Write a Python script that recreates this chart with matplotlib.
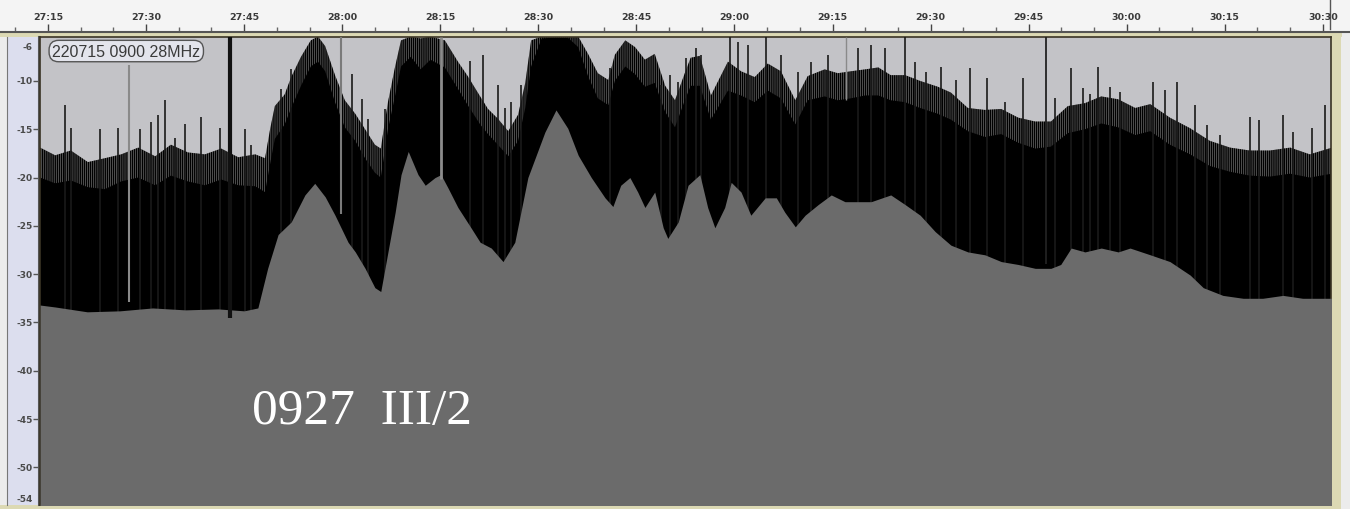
import matplotlib
matplotlib.use('Agg')
import matplotlib.pyplot as plt
from matplotlib.patches import Rectangle

plt.rcParams['hatch.linewidth'] = 1.1

# ---------------- data ----------------
time_ticks = [1635, 1650, 1665, 1680, 1695, 1710, 1725, 1740, 1755, 1770, 1785, 1800, 1815, 1830]
time_labels = ['27:15', '27:30', '27:45', '28:00', '28:15', '28:30', '28:45', '29:00',
               '29:15', '29:30', '29:45', '30:00', '30:15', '30:30']
db_ticks = [-6, -10, -15, -20, -25, -30, -35, -40, -45, -50, -54]
db_labels = ['-6', '-10', '-15', '-20', '-25', '-30', '-35', '-40', '-45', '-50', '-54']

# upper part of the trace: spike-tip level and solid-black level (dB)
upper_t = [1633.8, 1636.1, 1638.5, 1641.1, 1643.7, 1646.2, 1648.8, 1651.4, 1653.8, 1656.4,
           1659.0, 1661.5, 1664.1, 1666.7, 1668.2, 1669.0, 1669.7, 1671.2, 1672.2, 1673.7,
           1675.2, 1676.3, 1677.4, 1678.9, 1680.4, 1682.0, 1683.5, 1685.0, 1685.9, 1687.0,
           1688.1, 1689.0, 1690.5, 1692.0, 1693.5, 1695.7, 1697.7, 1699.2, 1701.1, 1702.3,
           1703.8, 1705.4, 1706.9, 1708.0, 1708.9, 1710.5, 1712.7, 1714.5, 1716.1, 1717.6,
           1719.1, 1720.7, 1721.7, 1723.3, 1724.8, 1726.3, 1727.8, 1729.4, 1730.9, 1732.4,
           1733.3, 1734.7, 1736.4, 1739.0, 1741.0, 1743.1, 1745.1, 1747.1, 1749.3, 1751.2,
           1753.8, 1755.8, 1757.8, 1760.0, 1762.0, 1763.9, 1766.1, 1768.4, 1771.1, 1773.1,
           1775.7, 1778.3, 1780.8, 1783.4, 1786.0, 1788.4, 1791.0, 1793.6, 1796.1, 1798.7,
           1801.3, 1803.6, 1806.6, 1809.7, 1812.7, 1815.8, 1818.8, 1821.9, 1825.0, 1828.0,
           1831.4]
peak_db = [-16.9, -17.7, -17.2, -18.4, -18.0, -17.6, -16.9, -17.8, -16.6, -17.4,
           -17.6, -17.0, -17.9, -17.6, -18.0, -14.9, -12.6, -11.4, -9.6, -7.5,
           -5.8, -5.4, -6.4, -9.4, -12.0, -13.4, -15.0, -16.6, -17.0, -12.2,
           -8.5, -5.8, -5.4, -5.6, -5.4, -5.8, -8.0, -9.5, -11.6, -12.9,
           -13.9, -15.2, -13.5, -10.2, -5.8, -5.4, -5.4, -5.4, -5.4, -7.2,
           -9.2, -9.9, -7.3, -5.8, -6.5, -7.8, -7.2, -10.5, -12.0, -9.2,
           -7.6, -7.4, -11.5, -8.0, -9.0, -9.6, -8.2, -9.0, -12.0, -9.5,
           -8.8, -9.2, -9.0, -8.8, -8.6, -9.4, -9.4, -10.0, -10.6, -11.2,
           -12.8, -13.0, -12.9, -13.8, -14.2, -14.2, -12.6, -12.3, -11.6, -11.9,
           -12.8, -12.4, -13.8, -14.9, -16.2, -16.9, -17.2, -17.2, -16.9, -17.6,
           -16.9]
solid_db = [-20.0, -20.6, -20.3, -21.0, -21.2, -20.4, -20.0, -20.8, -19.8, -20.4,
            -20.8, -20.2, -20.8, -20.9, -21.5, -18.5, -16.0, -14.5, -12.8, -10.5,
            -8.5, -8.0, -9.0, -12.2, -14.8, -16.2, -18.0, -19.5, -20.0, -15.0,
            -11.5, -8.5, -7.5, -8.8, -7.8, -8.6, -10.8, -12.5, -14.5, -15.5,
            -16.6, -17.8, -16.2, -12.8, -8.5, -5.6, -5.5, -5.5, -6.5, -9.5,
            -11.8, -12.5, -10.0, -8.5, -9.3, -10.6, -10.2, -13.2, -14.8, -12.0,
            -10.5, -10.5, -14.0, -11.0, -11.5, -12.2, -11.0, -11.8, -14.5, -12.0,
            -11.6, -12.0, -11.8, -11.5, -11.5, -12.0, -12.2, -12.8, -13.4, -14.0,
            -15.2, -15.8, -15.5, -16.4, -17.0, -16.8, -15.4, -15.0, -14.4, -14.8,
            -15.6, -15.2, -16.6, -17.6, -18.8, -19.4, -19.8, -19.9, -19.6, -20.0,
            -19.6]

# lower edge of the black trace (dB)
lower_t = [1633.8, 1636.1, 1641.0, 1646.0, 1651.0, 1656.0, 1661.0, 1665.0, 1667.1, 1668.6,
           1670.2, 1672.2, 1674.3, 1675.8, 1677.4, 1678.9, 1680.9, 1682.0, 1683.5, 1685.0,
           1685.9, 1687.0, 1688.1, 1689.0, 1690.1, 1691.6, 1692.7, 1694.2, 1695.1, 1696.2,
           1697.7, 1699.7, 1701.1, 1702.8, 1704.6, 1706.4, 1708.4, 1711.0, 1712.7, 1714.5,
           1716.1, 1718.1, 1720.2, 1721.4, 1722.6, 1724.0, 1725.2, 1726.3, 1727.8, 1729.1,
           1729.8, 1731.4, 1732.9, 1734.7, 1735.9, 1737.0, 1738.5, 1739.5, 1741.0, 1742.5,
           1744.7, 1746.4, 1747.7, 1749.3, 1750.8, 1752.8, 1754.8, 1756.9, 1758.9, 1760.9,
           1763.9, 1766.1, 1768.4, 1770.7, 1773.1, 1775.7, 1778.3, 1780.8, 1783.4, 1786.0,
           1788.4, 1789.9, 1791.5, 1793.6, 1796.1, 1798.7, 1800.5, 1803.6, 1806.6, 1809.7,
           1811.7, 1814.7, 1817.8, 1820.8, 1823.9, 1826.9, 1830.0, 1831.4]
lower_db = [-33.2, -33.4, -33.9, -33.8, -33.5, -33.7, -33.6, -33.8, -33.5, -29.4,
            -25.9, -24.6, -21.8, -20.6, -22.0, -23.9, -26.7, -27.7, -29.4, -31.4,
            -31.8, -27.7, -23.6, -19.7, -17.3, -19.7, -20.8, -20.0, -19.7, -21.1,
            -23.1, -25.2, -26.7, -27.3, -28.7, -26.7, -20.0, -15.3, -13.0, -14.9,
            -17.7, -20.0, -22.1, -23.0, -20.8, -20.0, -21.5, -23.1, -21.5, -25.2,
            -26.3, -24.6, -20.8, -19.7, -23.1, -25.2, -23.1, -20.5, -21.5, -23.9,
            -22.1, -22.1, -23.6, -25.1, -23.9, -22.8, -21.8, -22.5, -22.5, -22.5,
            -21.8, -22.8, -23.9, -25.6, -27.0, -27.7, -28.0, -28.7, -29.0, -29.4,
            -29.4, -29.0, -27.3, -27.7, -27.3, -27.7, -27.3, -28.0, -28.7, -30.1,
            -31.4, -32.2, -32.5, -32.5, -32.2, -32.5, -32.5, -32.5]

# prominent isolated spikes (time s, tip dB)
spike_t = [1637.6, 1638.5, 1643.0, 1645.7, 1649.1, 1650.8, 1651.8, 1652.9, 1654.4, 1656.0,
           1658.4, 1661.3, 1665.1, 1666.0, 1670.6, 1672.2, 1681.5, 1683.0, 1684.0, 1686.5,
           1699.5, 1701.5, 1703.8, 1704.9, 1705.8, 1707.3, 1721.0, 1728.8, 1730.1, 1731.4,
           1732.6, 1734.1, 1734.9, 1739.3, 1740.5, 1742.1, 1744.8, 1747.1, 1749.7, 1751.7,
           1754.3, 1758.9, 1760.9, 1763.0, 1766.1, 1767.6, 1769.3, 1771.6, 1773.9, 1776.0,
           1778.6, 1781.4, 1784.1, 1789.0, 1791.5, 1793.3, 1794.4, 1795.6, 1797.5, 1799.0,
           1804.0, 1805.9, 1807.7, 1810.4, 1812.3, 1814.3, 1818.9, 1820.2, 1823.9, 1825.4,
           1828.3, 1830.3]
spike_db = [-12.5, -14.9, -15.0, -14.9, -15.0, -14.2, -13.5, -12.0, -15.9, -14.5,
            -13.7, -14.9, -15.0, -16.6, -10.8, -8.8, -9.3, -11.9, -13.9, -12.9,
            -7.9, -7.3, -10.4, -12.8, -12.2, -10.4, -8.7, -10.4, -9.4, -10.1,
            -7.6, -6.6, -7.3, -5.5, -6.0, -6.3, -5.5, -7.3, -9.1, -8.0,
            -7.3, -6.6, -6.3, -6.6, -5.5, -8.0, -9.1, -8.6, -9.9, -8.7,
            -9.7, -12.2, -9.7, -11.8, -8.7, -10.7, -11.4, -8.6, -10.6, -11.1,
            -10.1, -10.9, -10.1, -12.5, -14.6, -15.6, -13.7, -14.0, -13.5, -15.3,
            -14.9, -12.5]

# long vertical lines crossing the trace (time s, top dB, bottom dB)
marker_t = [1647.4, 1662.8, 1679.8, 1695.1, 1757.1, 1787.6]
marker_top = [-8.3, -5.4, -5.4, -5.4, -5.4, -5.4]
marker_bottom = [-32.9, -34.5, -23.8, -20.1, -12.0, -28.9]

station_label = '220715 0900 28MHz'
event_label = '0927  III/2'

# ---------------- layout helpers ----------------
W, H = 1350, 510


def box(x0, y0, x1, y1):
    return [x0 / W, 1 - y1 / H, (x1 - x0) / W, (y1 - y0) / H]


fig = plt.figure(figsize=(13.5, 5.1), dpi=100)
fig.patch.set_facecolor('#ececec')


def fig_rect(x0, y0, x1, y1, color, z=0):
    b = box(x0, y0, x1, y1)
    fig.add_artist(Rectangle((b[0], b[1]), b[2], b[3], transform=fig.transFigure,
                             facecolor=color, edgecolor='none', zorder=z))


fig_rect(0, 33, 1342, 38, '#dcd9b4')          # khaki border under ruler
fig_rect(1331, 33, 1341, 510, '#dcd9b4')      # khaki border right
fig_rect(0, 506, 1341, 510, '#dcd9b4')

# ---------------- top time ruler ----------------
axr = fig.add_axes(box(0, 0, 1350, 33))
axr.set_facecolor('#f4f4f4')
axr.set_xlim(1627.66, 1834.15)
axr.set_ylim(0, 1)
axr.set_yticks([])
axr.set_xticks(time_ticks)
axr.set_xticklabels([])
axr.set_xticks(range(1630, 1835, 5), minor=True)
axr.tick_params(axis='x', which='major', direction='in', length=6, width=1, color='#444')
axr.tick_params(axis='x', which='minor', direction='in', length=3.5, width=1, color='#666')
for s in ['top', 'left', 'right']:
    axr.spines[s].set_visible(False)
axr.spines['bottom'].set_color('#555555')
axr.spines['bottom'].set_linewidth(1.5)
for t, lab in zip(time_ticks, time_labels):
    axr.text(t, 0.47, lab, ha='center', va='center', fontsize=6.8, fontweight='bold',
             color='#3a3a3a', family='DejaVu Sans')
axr.axvline(1831.1, ymin=0.1, ymax=1, color='#555', lw=1)

# ---------------- left dB ruler ----------------
axy = fig.add_axes(box(7, 38, 39, 506))
axy.set_facecolor('#dcdeee')
axy.set_ylim(-53.9, -5.45)
axy.set_xlim(0, 1)
axy.set_xticks([])
axy.set_yticks([v for v in db_ticks if -52 < v < -8])
axy.set_yticklabels([])
axy.yaxis.tick_right()
axy.tick_params(axis='y', direction='in', length=4, width=1, color='#555')
for s in ['top', 'bottom']:
    axy.spines[s].set_visible(False)
axy.spines['left'].set_color('#777')
axy.spines['right'].set_color('#555')
axy.spines['right'].set_linewidth(1.5)
for v, lab in zip(db_ticks, db_labels):
    va = 'center'
    if v == db_ticks[0]:
        va = 'top'
    if v == db_ticks[-1]:
        va = 'bottom'
    axy.text(0.8, v if v != db_ticks[-1] else -53.7, lab, ha='right', va=va,
             fontsize=6.5, fontweight='bold', color='#4a4a4a', clip_on=False)

# ---------------- waveform ----------------
ax = fig.add_axes(box(40, 38, 1331, 506))
ax.set_facecolor('#c3c3c7')
ax.set_xlim(1633.78, 1831.24)
ax.set_ylim(-53.9, -5.45)
ax.set_xticks([])
ax.set_yticks([])
for s in ax.spines.values():
    s.set_color('#3a3424')
    s.set_linewidth(1.2)

ax.fill_between(upper_t, peak_db, -60, facecolor='#8a8a8a', edgecolor='#000000',
                hatch='||||||||', linewidth=0, zorder=1)
ax.fill_between(upper_t, solid_db, -60, color='black', linewidth=0, zorder=2)
ax.vlines(spike_t, -40, spike_db, colors='#1a1a1a', linewidth=1.2, zorder=3)
ax.fill_between(lower_t, lower_db, -60, color='#6b6b6b', linewidth=0, zorder=4)

marker_colors = ['#8a8a8a', '#111111', '#7a7a7a', '#8c8c8c', '#8a8a8a', '#222222']
marker_widths = [1.5, 3.0, 1.5, 2.0, 1.0, 1.3]
for t, top, bot, c, w in zip(marker_t, marker_top, marker_bottom, marker_colors, marker_widths):
    ax.vlines(t, bot, top, colors=c, linewidth=w, zorder=5)

ax.text(0.0095, 0.970, station_label, transform=ax.transAxes, ha='left', va='center',
        fontsize=11.5, family='Liberation Sans', color='#3a3a3a', zorder=6,
        bbox=dict(boxstyle='round,pad=0.2,rounding_size=0.6', fc='#e3e4ec', ec='#555555', lw=1))

ax.text(0.164, 0.175, event_label, transform=ax.transAxes, ha='left', va='baseline',
        fontsize=37, family='Liberation Serif', color='white', zorder=6)

fig.savefig('out.png', dpi=100, facecolor=fig.get_facecolor())
